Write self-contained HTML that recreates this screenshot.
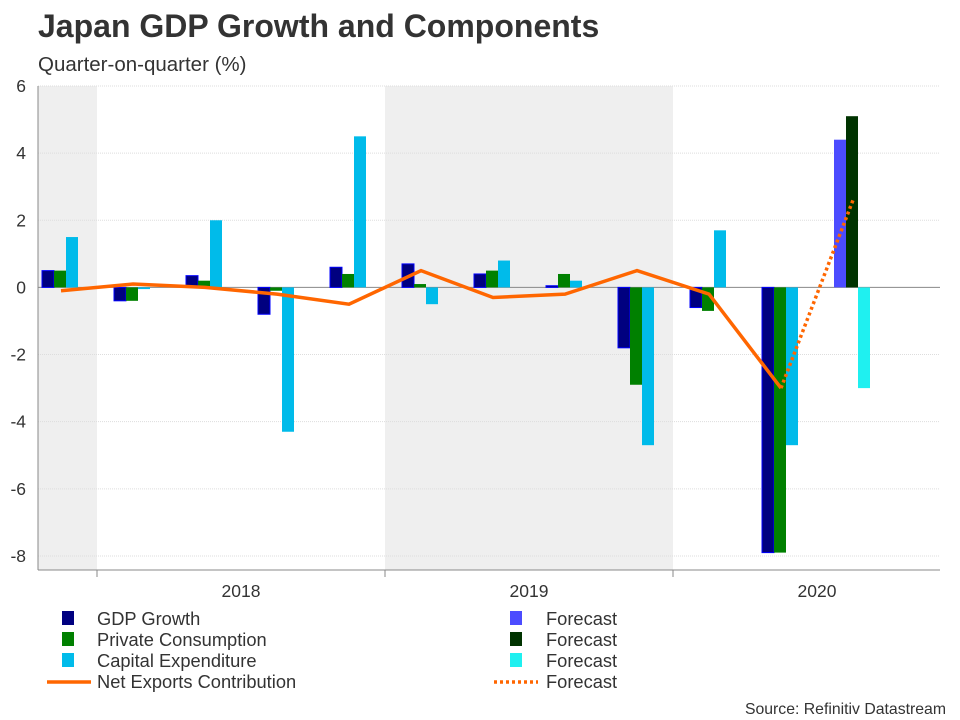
<!DOCTYPE html>
<html><head><meta charset="utf-8"><style>
body{margin:0;background:#fff;font-family:"Liberation Sans",sans-serif;}
#wrap{position:relative;width:960px;height:720px;overflow:hidden;}
</style></head><body><div id="wrap">
<svg id="chart" width="960" height="720" xmlns="http://www.w3.org/2000/svg">
<text x="38" y="37" font-size="32" font-weight="bold" fill="#333" font-family="Liberation Sans">Japan GDP Growth and Components</text>
<text x="38" y="71" font-size="20.5" fill="#333" font-family="Liberation Sans">Quarter-on-quarter (%)</text>
<g id="plot"></g>
<text x="946" y="714" font-size="15.8" fill="#333" text-anchor="end" font-family="Liberation Sans">Source: Refinitiv Datastream</text>
</svg></div>
<script>
const quarters=['2017Q4','2018Q1','2018Q2','2018Q3','2018Q4','2019Q1','2019Q2','2019Q3','2019Q4','2020Q1','2020Q2','2020Q3'];
const gdp=[0.5,-0.4,0.35,-0.8,0.6,0.7,0.4,0.05,-1.8,-0.6,-7.9,null];
const pc=[0.5,-0.4,0.2,-0.1,0.4,0.1,0.5,0.4,-2.9,-0.7,-7.9,null];
const capex=[1.5,-0.05,2.0,-4.3,4.5,-0.5,0.8,0.2,-4.7,1.7,-4.7,null];
const gdpF=[null,null,null,null,null,null,null,null,null,null,null,4.4];
const pcF=[null,null,null,null,null,null,null,null,null,null,null,5.1];
const capexF=[null,null,null,null,null,null,null,null,null,null,null,-3.0];
const netx=[-0.1,0.1,0.0,-0.2,-0.5,0.5,-0.3,-0.2,0.5,-0.2,-3.0,null];
const netxF=[null,null,null,null,null,null,null,null,null,null,-3.0,2.6];
const yTicks=[6,4,2,0,-2,-4,-6,-8];
const years=['2018','2019','2020'];
const NS='http://www.w3.org/2000/svg';
const g=document.getElementById('plot');
const X0=38,X1=940,QW=72,QSTART=25;
const y=v=>287.4-v*33.57;
const qx=i=>QSTART+i*QW;
function el(t,a){const e=document.createElementNS(NS,t);for(const k in a)e.setAttribute(k,a[k]);g.appendChild(e);return e;}
let s=el('rect',{x:X0,y:86,width:qx(1)-X0,height:484,fill:'#efefef'});


s=el('rect',{x:qx(5),y:86,width:QW*4,height:484,fill:'#efefef'});


yTicks.forEach(v=>{
 const l=el('line',{x1:X0,x2:X1,y1:y(v),y2:y(v),stroke:v===0?'#888':'#ddd','stroke-width':1,'stroke-dasharray':v===0?'':'1,1'});
 
 
 const t=el('text',{x:26,y:y(v)+6,'font-size':17.5,fill:'#333','text-anchor':'end','font-family':'Liberation Sans'});
 t.textContent=v;
 
 
});
let ax=el('line',{x1:X0,x2:X0,y1:86,y2:570,stroke:'#888'});


ax=el('line',{x1:X0,x2:X1,y1:570,y2:570,stroke:'#888'});


[1,5,9].forEach(i=>{const t=el('line',{x1:qx(i),x2:qx(i),y1:570,y2:577,stroke:'#888'});
 
 });
years.forEach((yr,k)=>{const t=el('text',{x:qx(1+4*k)+QW*2,y:597,'font-size':17.5,fill:'#333','text-anchor':'middle','font-family':'Liberation Sans'});
 t.textContent=yr;
 
 });
function bars(arr,off,fill,stroke,name){arr.forEach((v,i)=>{if(v===null)return;
 const r=el('rect',{x:qx(i)+off,y:Math.min(y(v),y(0)),width:12,height:Math.abs(y(v)-y(0)),fill:fill,stroke:stroke||'none','stroke-width':1});
 
 });}
bars(gdp,17,'#000080','#0000ff','bar-gdp');
bars(pc,29,'#008000',null,'bar-consumption');
bars(capex,41,'#00bbea',null,'bar-capex');
bars(gdpF,17,'#4c4cff',null,'bar-gdp-forecast');
bars(pcF,29,'#003300',null,'bar-consumption-forecast');
bars(capexF,41,'#1ff0f0',null,'bar-capex-forecast');
function line(arr,dash,name){const p=[];arr.forEach((v,i)=>{if(v!==null)p.push((qx(i)+36)+','+y(v));});
 const l=el('polyline',{points:p.join(' '),fill:'none',stroke:'#ff6600','stroke-width':3.5,'stroke-dasharray':dash});
 
 }
line(netx,'','line-net-exports');
line(netxF,'3,3','line-net-exports-forecast');
const leg=[[62,'GDP Growth','#000080','bar'],[62,'Private Consumption','#008000','bar'],[62,'Capital Expenditure','#00bbea','bar'],[47,'Net Exports Contribution','#ff6600','line'],
[510,'Forecast','#4c4cff','bar'],[510,'Forecast','#003300','bar'],[510,'Forecast','#1ff0f0','bar'],[494,'Forecast','#ff6600','dline']];
leg.forEach((L,k)=>{const row=k%4,yy=619+row*21;const x=L[0];
 let m;
 if(L[3]==='bar')m=el('rect',{x:x,y:yy-8,width:12,height:14,fill:L[2]});
 else m=el('line',{x1:x,x2:x+44,y1:yy,y2:yy,stroke:L[2],'stroke-width':3.5,'stroke-dasharray':L[3]==='dline'?'3,3':''});
 
 
 const tx=k<4?97:546;
 const t=el('text',{x:tx,y:yy+6,'font-size':18.3,fill:'#333','font-family':'Liberation Sans'});
 t.textContent=L[1];
 
 });
</script></body></html>
